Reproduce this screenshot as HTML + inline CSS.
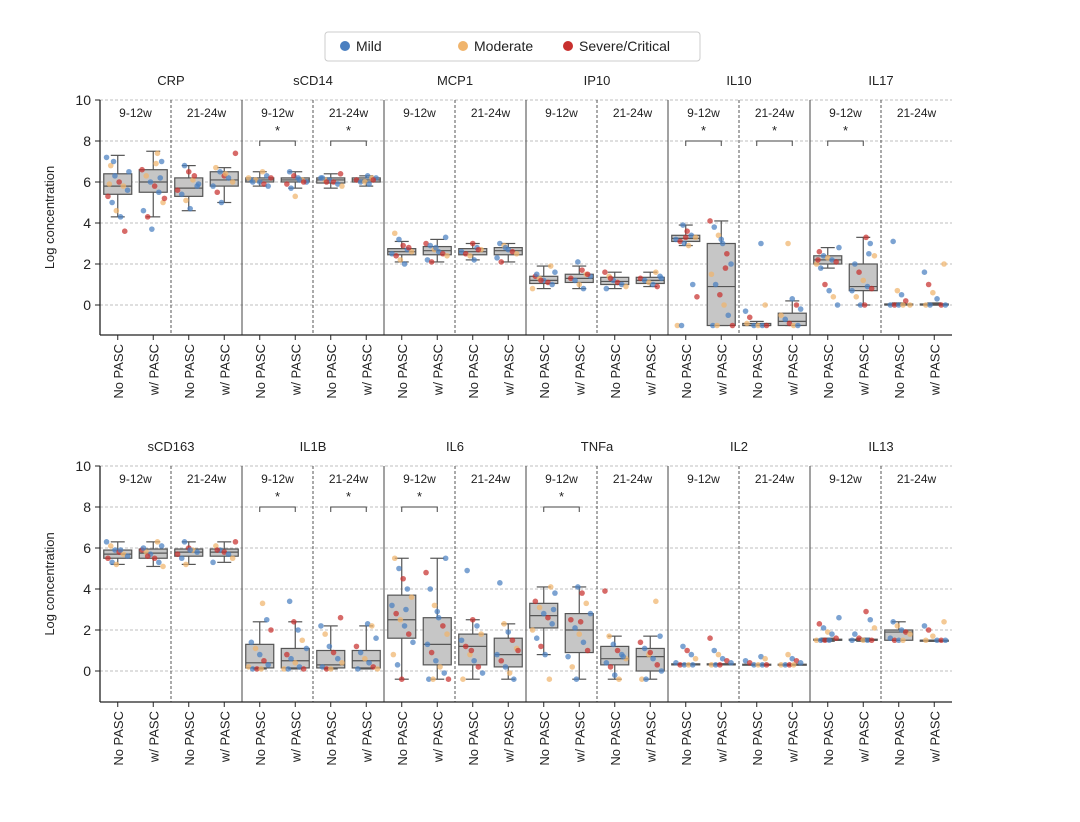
<!DOCTYPE html>
<html><head><meta charset="utf-8"><style>
body{margin:0;background:#fff;}
svg{font-family:"Liberation Sans","DejaVu Sans",sans-serif;}
</style></head><body>
<svg id="chart" width="1080" height="817" viewBox="0 0 1080 817" xmlns="http://www.w3.org/2000/svg">
<g>
<rect x="325" y="32" width="375" height="29" rx="3" fill="#fff" stroke="#ccc"/>
<circle cx="345" cy="46" r="5" fill="#4a7fc0"/>
<text x="356" y="51" font-size="14" fill="#222">Mild</text>
<circle cx="463" cy="46" r="5" fill="#f0b46c"/>
<text x="474" y="51" font-size="14" fill="#222">Moderate</text>
<circle cx="568" cy="46" r="5" fill="#c8302e"/>
<text x="579" y="51" font-size="14" fill="#222">Severe/Critical</text>
</g>
</svg>
<script>
const topCytokines = ["CRP","sCD14","MCP1","IP10","IL10","IL17"];
const bottomCytokines = ["sCD163","IL1B","IL6","TNFa","IL2","IL13"];
const timepoints = ["9-12w","21-24w"];
const groups = ["No PASC","w/ PASC"];
const yTicks = [0,2,4,6,8,10];
// box stats: [whiskerLow, q1, median, q3, whiskerHigh]
const topBoxes = [
[4.3,5.4,5.8,6.4,7.3],[4.3,5.5,6.0,6.6,7.5],[4.6,5.3,5.7,6.2,6.8],[5.0,5.8,6.1,6.5,6.7],
[5.8,6.0,6.1,6.2,6.5],[5.7,6.0,6.1,6.2,6.5],[5.7,5.95,6.1,6.2,6.4],[5.8,6.0,6.1,6.2,6.3],
[2.1,2.45,2.6,2.75,3.1],[2.1,2.45,2.65,2.85,3.2],[2.2,2.45,2.6,2.75,3.0],[2.1,2.45,2.65,2.8,3.0],
[0.8,1.05,1.2,1.4,1.9],[0.8,1.1,1.3,1.5,1.9],[0.8,1.0,1.15,1.35,1.6],[0.9,1.05,1.2,1.35,1.6],
[2.9,3.1,3.25,3.4,3.9],[-1,-1,0.9,3.0,4.1],[-1,-1,-1,-0.9,-0.8],[-1,-1,-0.8,-0.4,0.2],
[1.8,2.0,2.2,2.4,2.8],[0,0.7,0.9,2.0,3.3],[0,0,0,0.05,0.1],[0,0,0,0.05,0.1]
];
const bottomBoxes = [
[5.2,5.5,5.7,5.9,6.3],[5.1,5.5,5.75,5.95,6.3],[5.2,5.6,5.8,5.95,6.3],[5.3,5.6,5.8,5.95,6.3],
[0.1,0.15,0.4,1.3,2.4],[0.1,0.15,0.5,1.1,2.4],[0.1,0.15,0.3,1.0,2.2],[0.1,0.15,0.5,1.0,2.2],
[-0.4,1.6,2.5,3.7,5.5],[-0.4,0.3,1.3,2.6,5.5],[-0.4,0.3,1.2,1.8,2.5],[-0.4,0.2,0.8,1.6,2.3],
[0.8,2.1,2.7,3.3,4.1],[-0.4,0.9,2.0,2.8,4.1],[-0.4,0.3,0.6,1.2,1.7],[-0.4,0.0,0.7,1.1,1.7],
[0.3,0.3,0.3,0.35,0.35],[0.3,0.3,0.3,0.35,0.35],[0.3,0.3,0.3,0.33,0.33],[0.3,0.3,0.3,0.33,0.33],
[1.45,1.5,1.5,1.55,1.6],[1.45,1.5,1.5,1.55,1.6],[1.5,1.5,1.9,2.0,2.4],[1.45,1.5,1.5,1.5,1.5]
];
const topPoints = [
[7.2,6.8,6.3,6.0,5.8,5.6,5.3,5.0,4.6,4.3,3.6,6.5,5.9,7.0],[7.4,7.0,6.6,6.3,6.0,5.8,5.5,5.0,4.6,4.3,3.7,6.9,6.2,5.2],
[6.8,6.5,6.1,5.8,5.6,5.4,5.1,4.7,6.3,5.9],[7.4,6.7,6.5,6.3,6.2,6.0,5.8,5.5,5.0,6.4],
[6.5,6.3,6.2,6.1,6.1,6.0,5.9,5.8,6.2,6.0],[6.5,6.3,6.2,6.1,6.0,5.9,5.7,5.3,6.1,6.0],
[6.4,6.2,6.1,6.1,6.0,5.9,5.8,6.2,6.0],[6.3,6.2,6.2,6.1,6.0,6.0,5.9,6.1],
[3.5,3.2,2.9,2.7,2.6,2.5,2.4,2.2,2.0,2.8],[3.3,3.0,2.9,2.7,2.6,2.5,2.4,2.2,2.1,2.8],
[3.0,2.8,2.7,2.6,2.5,2.4,2.2,2.7],[3.0,2.9,2.7,2.6,2.5,2.3,2.1,2.8],
[1.9,1.6,1.4,1.3,1.2,1.1,1.0,0.8,1.5,1.2],[2.1,1.7,1.5,1.4,1.3,1.2,1.0,0.8,1.5],
[1.6,1.4,1.2,1.1,1.0,0.9,0.8,1.3],[1.6,1.4,1.3,1.2,1.1,1.0,0.9,1.3],
[3.9,3.6,3.4,3.3,3.2,3.1,3.0,2.9,1.0,0.4,-1,-1,3.3],[4.1,3.8,3.4,3.0,2.5,2.0,1.5,1.0,0.5,0,-0.5,-1,-1,-1,3.2,1.8],
[3.0,0,-0.3,-0.6,-1,-1,-1,-1,-0.9],[3.0,0.3,0,-0.2,-0.5,-0.7,-0.9,-1,-1],
[2.8,2.6,2.4,2.3,2.2,2.1,2.0,1.8,1.0,0.7,0.4,0,2.2],[3.3,3.0,2.4,2.0,1.6,1.2,0.9,0.8,0.7,0.4,0,0,2.5],
[3.1,0.7,0.5,0.2,0,0,0,0,0],[2.0,1.6,1.0,0.6,0.3,0,0,0,0]
];
const bottomPoints = [
[6.3,6.1,5.9,5.8,5.7,5.6,5.5,5.3,5.2,5.9],[6.3,6.1,5.9,5.8,5.7,5.5,5.3,5.1,6.0,5.6],
[6.3,6.0,5.9,5.8,5.7,5.5,5.2,5.9],[6.3,6.1,5.9,5.8,5.7,5.5,5.3,5.9],
[3.3,2.5,2.0,1.4,1.1,0.8,0.5,0.3,0.2,0.1,0.1,0.1],[3.4,2.4,2.0,1.5,1.1,0.8,0.6,0.4,0.2,0.1,0.1,0.1],
[2.6,2.2,1.8,1.2,0.9,0.6,0.4,0.2,0.1,0.1],[2.3,2.2,1.6,1.2,0.9,0.6,0.4,0.2,0.1,0.1],
[5.5,5.0,4.5,4.0,3.6,3.2,2.8,2.5,2.2,1.8,1.4,0.8,0.3,-0.4,3.0],[5.5,4.8,4.0,3.2,2.6,2.2,1.8,1.3,0.9,0.5,0.2,-0.1,-0.4,-0.4,-0.4,2.9],
[2.5,2.2,1.8,1.5,1.2,0.8,0.5,0.2,-0.1,-0.4,4.9,1.0],[4.3,2.3,1.9,1.5,1.1,0.8,0.5,0.2,-0.1,-0.4,1.0],
[4.1,3.8,3.4,3.1,2.8,2.6,2.3,2.0,1.6,1.2,0.8,-0.4,3.0],[4.1,3.8,3.3,2.8,2.5,2.1,1.8,1.4,1.0,0.7,0.2,-0.4,2.4],
[3.9,1.7,1.3,1.0,0.8,0.6,0.4,0.2,-0.2,-0.4,0.7],[3.4,1.7,1.4,1.1,0.8,0.6,0.3,0,-0.4,-0.4,0.9],
[1.2,1.0,0.8,0.6,0.4,0.3,0.3,0.3,0.3],[1.6,1.0,0.8,0.6,0.5,0.4,0.3,0.3,0.3],
[0.7,0.6,0.5,0.4,0.3,0.3,0.3,0.3],[0.8,0.6,0.5,0.4,0.3,0.3,0.3,0.3],
[2.6,2.3,2.1,1.9,1.8,1.6,1.5,1.5,1.5,1.5],[2.9,2.5,2.1,1.8,1.6,1.5,1.5,1.5,1.5],
[2.4,2.2,2.0,1.9,1.8,1.6,1.5,1.5,1.5],[2.4,2.2,2.0,1.7,1.5,1.5,1.5,1.5]
];
// significance: subpanel indices (0-11) with a bracket
const topSig = [2,3,8,9,10];
const bottomSig = [2,3,4,6];

const NS="http://www.w3.org/2000/svg";
const svg=document.getElementById('chart');
const sevColors={m:"#4a7fc0",o:"#f0b46c",s:"#c8302e"};
const sevPattern="momsomsmoms";
function mk(tag,attrs,parent){const e=document.createElementNS(NS,tag);for(const k in attrs)e.setAttribute(k,attrs[k]);(parent||svg).appendChild(e);return e;}

const X0=100,X1=952,SUBW=(X1-X0)/12;
function drawPanel(cfg){
  const g=mk('g',{});
  
  
  const y=v=>cfg.zeroY-v*cfg.unit;
  const top=y(10), bottom=cfg.bottom;
  // grid
  yTicks.forEach(t=>{
    const l=mk('line',{x1:X0,x2:X1,y1:y(t),y2:y(t),stroke:"#aaa","stroke-dasharray":"3,2","stroke-width":0.8},g);
    
    
    mk('line',{x1:X0-5,x2:X0,y1:y(t),y2:y(t),stroke:"#222","stroke-width":1},g);
    const tx=mk('text',{x:X0-9,y:y(t)+5,"font-size":14,"text-anchor":"end",fill:"#222"},g);
    tx.textContent=t;
    
    
  });
  const yl=mk('text',{x:0,y:0,"font-size":13,"text-anchor":"middle",fill:"#222",transform:`translate(54,${(top+bottom)/2}) rotate(-90)`},g);
  yl.textContent="Log concentration";
  
  
  // separators
  for(let i=1;i<12;i++){
    const x=X0+i*SUBW;
    const sl=mk('line',{x1:x,x2:x,y1:top,y2:bottom,stroke:"#444","stroke-width":i%2==0?1:0.9,"stroke-dasharray":i%2==0?"none":"3,2"},g);
    
    
  }
  cfg.cytokines.forEach((c,ci)=>{
    const t=mk('text',{x:X0+(ci*2+1)*SUBW,y:top-15,"font-size":13,"text-anchor":"middle",fill:"#222"},g);
    t.textContent=c;
    
    
    timepoints.forEach((tp,ti)=>{
      const tt=mk('text',{x:X0+(ci*2+ti+0.5)*SUBW,y:top+17,"font-size":12,"text-anchor":"middle",fill:"#222"},g);
      tt.textContent=tp;
      
      
    });
  });
  // boxes
  cfg.boxes.forEach((b,bi)=>{
    const cx=X0+(bi+0.5)*SUBW/2, hw=14;
    const bg=mk('g',{},g);
    
    
    const st={stroke:"#555","stroke-width":1.2};
    mk('line',Object.assign({x1:cx,x2:cx,y1:y(b[0]),y2:y(b[1])},st),bg);
    mk('line',Object.assign({x1:cx,x2:cx,y1:y(b[3]),y2:y(b[4])},st),bg);
    mk('line',Object.assign({x1:cx-7,x2:cx+7,y1:y(b[0]),y2:y(b[0])},st),bg);
    mk('line',Object.assign({x1:cx-7,x2:cx+7,y1:y(b[4]),y2:y(b[4])},st),bg);
    mk('rect',Object.assign({x:cx-hw,width:hw*2,y:y(b[3]),height:Math.max(1,y(b[1])-y(b[3])),fill:"#c6c6c6"},st),bg);
    mk('line',Object.assign({x1:cx-hw,x2:cx+hw,y1:y(b[2]),y2:y(b[2])},st),bg);
    cfg.points[bi].forEach((v,pi)=>{
      const jx=((pi*37+bi*11)%17-8)*1.4;
      const p=mk('circle',{cx:cx+jx,cy:y(v),r:2.8,fill:sevColors[sevPattern[(pi+bi)%sevPattern.length]],"fill-opacity":0.72},bg);
      
      
    });
    mk('line',{x1:cx,x2:cx,y1:bottom,y2:bottom+5,stroke:"#222"},g);
    const xl=mk('text',{x:0,y:0,"font-size":13,"text-anchor":"end",fill:"#222",transform:`translate(${cx+5},${bottom+9}) rotate(-90)`},g);
    xl.textContent=groups[bi%2];
    
    
  });
  // significance
  cfg.sig.forEach(s=>{
    const xa=X0+(s*2+0.5)*SUBW/2, xb=X0+(s*2+1.5)*SUBW/2, yy=y(8);
    const sg=mk('g',{},g);
    
    
    mk('path',{d:`M${xa},${yy+5}V${yy}H${xb}V${yy+5}`,fill:"none",stroke:"#444","stroke-width":1},sg);
    const st=mk('text',{x:(xa+xb)/2,y:yy-6,"font-size":13,"text-anchor":"middle",fill:"#222"},sg);
    st.textContent="*";
  });
  // spines
  mk('line',{x1:X0,x2:X0,y1:top,y2:bottom,stroke:"#222","stroke-width":1.3},g);
  mk('line',{x1:X0,x2:X1,y1:bottom,y2:bottom,stroke:"#222","stroke-width":1.3},g);
}
drawPanel({name:'top-panel',cytokines:topCytokines,boxes:topBoxes,points:topPoints,sig:topSig,zeroY:305,unit:20.5,bottom:335});
drawPanel({name:'bottom-panel',cytokines:bottomCytokines,boxes:bottomBoxes,points:bottomPoints,sig:bottomSig,zeroY:671,unit:20.5,bottom:702});
</script>
</body></html>
